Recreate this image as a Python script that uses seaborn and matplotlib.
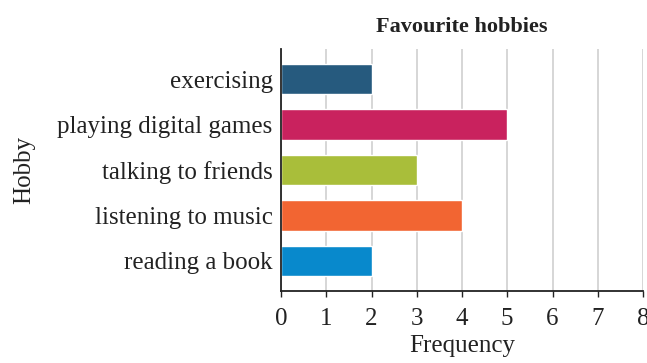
import matplotlib
matplotlib.use("Agg")
import matplotlib.pyplot as plt
import seaborn as sns
import pandas as pd

hobbies = ["exercising", "playing digital games", "talking to friends",
           "listening to music", "reading a book"]
frequency = [2, 5, 3, 4, 2]
colors = ["#265a7e", "#c9225e", "#a9be3a", "#f26532", "#0889cc"]
x_ticks = [0, 1, 2, 3, 4, 5, 6, 7, 8]

df = pd.DataFrame({"Hobby": hobbies, "Frequency": frequency})

sns.set_theme(style="white")
plt.rcParams["font.family"] = ["Liberation Serif", "DejaVu Serif"]

fig = plt.figure(figsize=(6.47, 3.63), dpi=100)
ax = fig.add_axes([281 / 647, 1 - 291 / 363, 362 / 647, 242 / 363])

sns.barplot(data=df, y="Hobby", x="Frequency", hue="Hobby", palette=colors,
            order=hobbies, width=0.68, legend=False, ax=ax, saturation=1)

ax.set_xlim(0, 8)
ax.set_ylim(4.66, -0.66)
ax.set_xticks(x_ticks)
ax.set_xticklabels([str(t) for t in x_ticks])
ax.grid(axis="x", color="#cfcfcf", linewidth=1.2)
ax.set_axisbelow(True)

for side in ["top", "right"]:
    ax.spines[side].set_visible(False)
for side in ["left", "bottom"]:
    ax.spines[side].set_color("#222222")
    ax.spines[side].set_linewidth(1.3)

ax.tick_params(axis="x", bottom=True, length=4, width=1.0, color="#222222",
               labelsize=18, pad=8, labelcolor="#222222")
ax.tick_params(axis="y", left=False, length=0, labelsize=18, pad=6,
               labelcolor="#222222")

ax.set_xlabel("Frequency", fontsize=18, color="#222222", labelpad=4)
ax.set_ylabel("Hobby", fontsize=18, color="#222222", labelpad=16)
ax.set_title("Favourite hobbies", fontsize=16, fontweight="bold",
             color="#222222", pad=12)

fig.savefig("out.png", dpi=100)
